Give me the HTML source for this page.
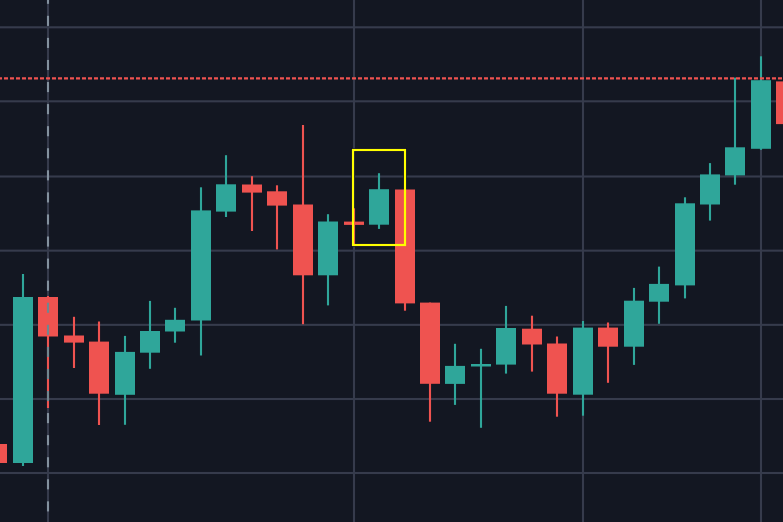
<!DOCTYPE html>
<html><head><meta charset="utf-8"><title>Chart</title>
<style>html,body{margin:0;padding:0;background:#131722;overflow:hidden;font-family:"Liberation Sans",sans-serif}svg{display:block}</style>
</head><body>
<svg width="783" height="522" viewBox="0 0 783 522">
<rect x="0" y="0" width="783" height="522" fill="#131722"/>
<g fill="#363b4c">
<rect x="0" y="26.25" width="783" height="2.1"/>
<rect x="0" y="100.25" width="783" height="2.1"/>
<rect x="0" y="175.45" width="783" height="2.1"/>
<rect x="0" y="249.60" width="783" height="2.1"/>
<rect x="0" y="323.80" width="783" height="2.1"/>
<rect x="0" y="397.95" width="783" height="2.1"/>
<rect x="0" y="471.95" width="783" height="2.1"/>
<rect x="46.95" y="0" width="2.1" height="522"/>
<rect x="352.95" y="0" width="2.1" height="522"/>
<rect x="581.95" y="0" width="2.1" height="522"/>
<rect x="759.95" y="0" width="2.1" height="522"/>
</g>
<rect x="353" y="150" width="52" height="95" fill="none" stroke="#06062a" stroke-opacity="0.7" stroke-width="4"/>
<g fill="#ef5350">
<rect x="-4.05" y="444.00" width="2.1" height="19.00"/>
<rect x="-13.00" y="444.00" width="20" height="19.00"/>
</g>
<g fill="#2fa69a">
<rect x="21.95" y="274.00" width="2.1" height="192.00"/>
<rect x="13.00" y="297.00" width="20" height="166.00"/>
</g>
<g fill="#ef5350">
<rect x="46.95" y="296.00" width="2.1" height="112.00"/>
<rect x="38.00" y="297.00" width="20" height="39.50"/>
</g>
<g fill="#ef5350">
<rect x="72.95" y="316.80" width="2.1" height="51.20"/>
<rect x="64.00" y="335.50" width="20" height="7.10"/>
</g>
<g fill="#ef5350">
<rect x="97.95" y="321.50" width="2.1" height="103.50"/>
<rect x="89.00" y="341.60" width="20" height="52.10"/>
</g>
<g fill="#2fa69a">
<rect x="123.95" y="335.90" width="2.1" height="88.90"/>
<rect x="115.00" y="351.90" width="20" height="42.90"/>
</g>
<g fill="#2fa69a">
<rect x="148.95" y="300.90" width="2.1" height="67.90"/>
<rect x="140.00" y="331.00" width="20" height="21.70"/>
</g>
<g fill="#2fa69a">
<rect x="173.95" y="307.80" width="2.1" height="34.90"/>
<rect x="165.00" y="319.80" width="20" height="11.70"/>
</g>
<g fill="#2fa69a">
<rect x="199.95" y="187.30" width="2.1" height="168.20"/>
<rect x="191.00" y="210.40" width="20" height="110.10"/>
</g>
<g fill="#2fa69a">
<rect x="224.95" y="155.20" width="2.1" height="61.80"/>
<rect x="216.00" y="184.30" width="20" height="27.30"/>
</g>
<g fill="#ef5350">
<rect x="250.95" y="176.20" width="2.1" height="54.80"/>
<rect x="242.00" y="184.50" width="20" height="8.10"/>
</g>
<g fill="#ef5350">
<rect x="275.95" y="185.30" width="2.1" height="64.10"/>
<rect x="267.00" y="191.30" width="20" height="14.30"/>
</g>
<g fill="#ef5350">
<rect x="301.95" y="125.00" width="2.1" height="199.20"/>
<rect x="293.00" y="204.50" width="20" height="70.80"/>
</g>
<g fill="#2fa69a">
<rect x="326.95" y="214.20" width="2.1" height="91.20"/>
<rect x="318.00" y="221.50" width="20" height="53.80"/>
</g>
<g fill="#ef5350">
<rect x="352.95" y="208.30" width="2.1" height="36.70"/>
<rect x="344.00" y="221.60" width="20" height="3.30"/>
</g>
<g fill="#2fa69a">
<rect x="377.95" y="173.20" width="2.1" height="55.70"/>
<rect x="369.00" y="189.20" width="20" height="35.50"/>
</g>
<g fill="#ef5350">
<rect x="403.95" y="189.50" width="2.1" height="121.20"/>
<rect x="395.00" y="189.50" width="20" height="113.90"/>
</g>
<g fill="#ef5350">
<rect x="428.95" y="302.60" width="2.1" height="119.10"/>
<rect x="420.00" y="302.60" width="20" height="81.20"/>
</g>
<g fill="#2fa69a">
<rect x="453.95" y="343.80" width="2.1" height="61.10"/>
<rect x="445.00" y="365.90" width="20" height="18.00"/>
</g>
<g fill="#2fa69a">
<rect x="479.95" y="348.80" width="2.1" height="79.00"/>
<rect x="471.00" y="364.00" width="20" height="2.50"/>
</g>
<g fill="#2fa69a">
<rect x="504.95" y="305.90" width="2.1" height="67.70"/>
<rect x="496.00" y="328.00" width="20" height="36.60"/>
</g>
<g fill="#ef5350">
<rect x="530.95" y="315.70" width="2.1" height="55.90"/>
<rect x="522.00" y="328.70" width="20" height="15.80"/>
</g>
<g fill="#ef5350">
<rect x="555.95" y="336.50" width="2.1" height="80.20"/>
<rect x="547.00" y="343.50" width="20" height="50.20"/>
</g>
<g fill="#2fa69a">
<rect x="581.95" y="321.00" width="2.1" height="94.70"/>
<rect x="573.00" y="327.60" width="20" height="67.10"/>
</g>
<g fill="#ef5350">
<rect x="606.95" y="322.50" width="2.1" height="60.30"/>
<rect x="598.00" y="327.60" width="20" height="19.10"/>
</g>
<g fill="#2fa69a">
<rect x="632.95" y="287.90" width="2.1" height="77.00"/>
<rect x="624.00" y="300.70" width="20" height="46.00"/>
</g>
<g fill="#2fa69a">
<rect x="657.95" y="266.60" width="2.1" height="57.20"/>
<rect x="649.00" y="283.90" width="20" height="17.80"/>
</g>
<g fill="#2fa69a">
<rect x="683.95" y="197.30" width="2.1" height="101.10"/>
<rect x="675.00" y="203.30" width="20" height="82.10"/>
</g>
<g fill="#2fa69a">
<rect x="708.95" y="163.10" width="2.1" height="57.50"/>
<rect x="700.00" y="174.40" width="20" height="30.10"/>
</g>
<g fill="#2fa69a">
<rect x="733.95" y="77.60" width="2.1" height="107.10"/>
<rect x="725.00" y="147.30" width="20" height="28.10"/>
</g>
<g fill="#2fa69a">
<rect x="759.95" y="56.30" width="2.1" height="93.50"/>
<rect x="751.00" y="80.20" width="20" height="68.60"/>
</g>
<g fill="#ef5350">
<rect x="784.95" y="81.40" width="2.1" height="42.70"/>
<rect x="776.00" y="81.40" width="20" height="42.70"/>
</g>
<line x1="-2" y1="78.35" x2="785" y2="78.35" stroke="#ef5350" stroke-width="2.3" stroke-dasharray="4 2"/>
<rect x="46.95" y="-6.27" width="2.1" height="10.1" fill="#83919e"/>
<rect x="46.95" y="15.80" width="2.1" height="10.1" fill="#83919e"/>
<rect x="46.95" y="37.87" width="2.1" height="10.1" fill="#83919e"/>
<rect x="46.95" y="59.94" width="2.1" height="10.1" fill="#83919e"/>
<rect x="46.95" y="82.01" width="2.1" height="10.1" fill="#83919e"/>
<rect x="46.95" y="104.08" width="2.1" height="10.1" fill="#83919e"/>
<rect x="46.95" y="126.15" width="2.1" height="10.1" fill="#83919e"/>
<rect x="46.95" y="148.22" width="2.1" height="10.1" fill="#83919e"/>
<rect x="46.95" y="170.29" width="2.1" height="10.1" fill="#83919e"/>
<rect x="46.95" y="192.36" width="2.1" height="10.1" fill="#83919e"/>
<rect x="46.95" y="214.43" width="2.1" height="10.1" fill="#83919e"/>
<rect x="46.95" y="236.50" width="2.1" height="10.1" fill="#83919e"/>
<rect x="46.95" y="258.57" width="2.1" height="10.1" fill="#83919e"/>
<rect x="46.95" y="280.64" width="2.1" height="10.1" fill="#83919e"/>
<rect x="46.95" y="302.71" width="2.1" height="10.1" fill="#71868f"/>
<rect x="46.95" y="324.78" width="2.1" height="10.1" fill="#71868f"/>
<rect x="46.95" y="346.85" width="2.1" height="10.1" fill="#71868f"/>
<rect x="46.95" y="368.92" width="2.1" height="10.1" fill="#71868f"/>
<rect x="46.95" y="390.99" width="2.1" height="10.1" fill="#71868f"/>
<rect x="46.95" y="413.06" width="2.1" height="10.1" fill="#83919e"/>
<rect x="46.95" y="435.13" width="2.1" height="10.1" fill="#83919e"/>
<rect x="46.95" y="457.20" width="2.1" height="10.1" fill="#83919e"/>
<rect x="46.95" y="479.27" width="2.1" height="10.1" fill="#83919e"/>
<rect x="46.95" y="501.34" width="2.1" height="10.1" fill="#83919e"/>
<rect x="353" y="150" width="52" height="95" fill="none" stroke="#ffff00" stroke-width="2.2"/>
</svg>
</body></html>
